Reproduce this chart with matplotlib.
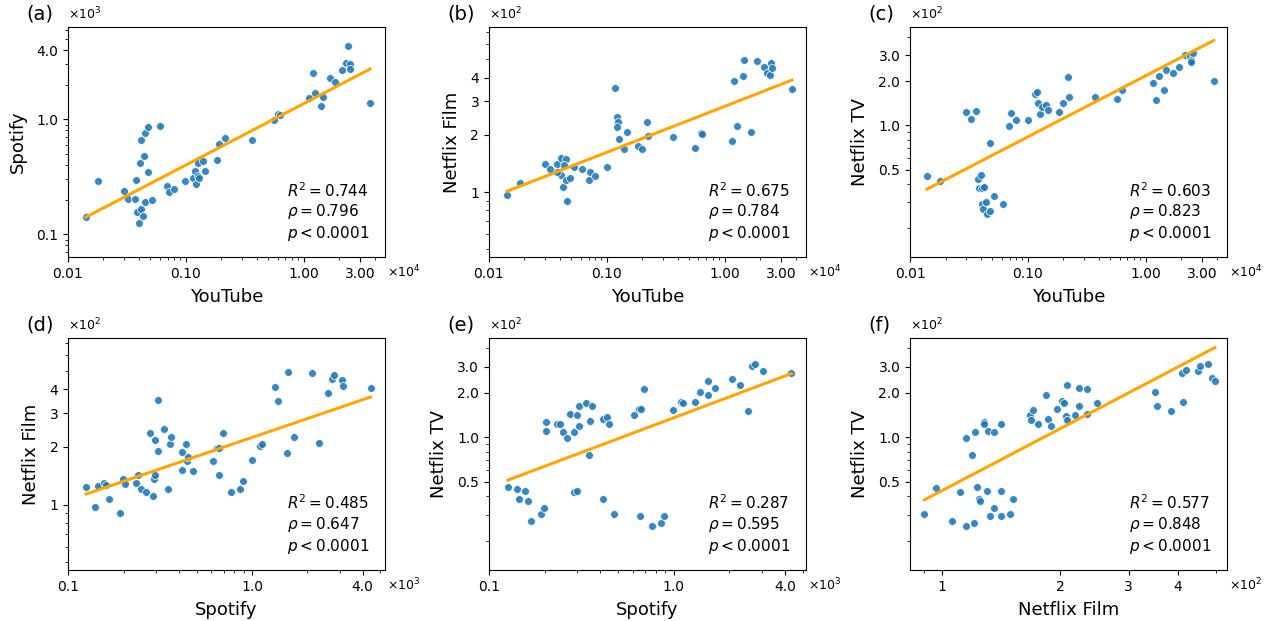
import numpy as np
import matplotlib.pyplot as plt
from matplotlib.ticker import NullFormatter

# (a) YouTube (x10^4) vs Spotify (x10^3)
a_youtube = [0.0141, 0.0180, 0.0297, 0.0326, 0.0378, 0.0373, 0.0385, 0.0419, 0.0403, 0.0431,
             0.0451, 0.0513, 0.0406, 0.0445, 0.0478, 0.0417, 0.0448, 0.0474, 0.0607, 0.0695,
             0.0714, 0.0792, 0.0987, 0.116, 0.120, 0.122, 0.126, 0.129, 0.128, 0.141,
             0.146, 0.183, 0.193, 0.215, 0.361, 0.557, 0.611, 0.627, 1.12, 1.19,
             1.26, 1.45, 1.40, 1.68, 1.86, 2.11, 2.28, 2.40, 2.46, 2.45, 3.66]
a_spotify = [0.141, 0.289, 0.238, 0.202, 0.297, 0.202, 0.157, 0.166, 0.126, 0.144,
             0.190, 0.199, 0.414, 0.477, 0.346, 0.661, 0.760, 0.851, 0.881, 0.265,
             0.233, 0.248, 0.289, 0.307, 0.358, 0.276, 0.321, 0.307, 0.414, 0.431,
             0.353, 0.443, 0.610, 0.693, 0.666, 0.987, 1.105, 1.09, 1.54, 2.55,
             1.68, 1.55, 1.31, 2.29, 2.10, 2.67, 3.11, 4.34, 3.05, 2.74, 1.38]

# (b) YouTube (x10^4) vs Netflix Film (x10^2)
b_youtube = [0.0142, 0.0183, 0.0301, 0.0332, 0.0380, 0.0411, 0.0453, 0.0406, 0.0380, 0.0422,
             0.0456, 0.0453, 0.0487, 0.0522, 0.0431, 0.0619, 0.0723, 0.0705, 0.0802, 0.1007,
             0.118, 0.121, 0.124, 0.123, 0.128, 0.140, 0.148, 0.185, 0.198, 0.218,
             0.225, 0.368, 0.565, 0.627, 0.640, 1.16, 1.21, 1.28, 1.42, 1.46,
             1.69, 1.90, 2.15, 2.29, 2.43, 2.48, 2.50, 3.73]
b_film = [0.96, 1.11, 1.41, 1.32, 1.41, 1.51, 1.49, 1.23, 1.27, 1.06,
          0.90, 1.15, 1.19, 1.35, 1.39, 1.32, 1.28, 1.15, 1.21, 1.35,
          3.53, 2.49, 2.35, 2.19, 1.90, 1.68, 2.08, 1.75, 1.68, 2.34,
          1.97, 1.96, 1.70, 2.04, 2.02, 1.85, 3.85, 2.23, 4.10, 4.96,
          2.08, 4.90, 4.54, 4.24, 4.12, 4.78, 4.52, 3.49]

# (c) YouTube (x10^4) vs Netflix TV (x10^2)
c_youtube = [0.0139, 0.0178, 0.0297, 0.0326, 0.0366, 0.0376, 0.0401, 0.0388, 0.0406, 0.0428,
             0.0412, 0.0415, 0.0443, 0.0449, 0.0475, 0.0479, 0.0514, 0.0613, 0.0694, 0.0717,
             0.0796, 0.0993, 0.116, 0.120, 0.122, 0.127, 0.131, 0.143, 0.147, 0.185,
             0.197, 0.217, 0.224, 0.369, 0.567, 0.634, 1.16, 1.22, 1.29, 1.42,
             1.49, 1.71, 1.92, 2.17, 2.38, 2.44, 2.51, 2.44, 3.78]
c_tv = [0.451, 0.421, 1.23, 1.10, 1.26, 0.430, 0.460, 0.373, 0.377, 0.379,
        0.290, 0.269, 0.299, 0.250, 0.261, 0.759, 0.330, 0.290, 0.99, 1.22,
        1.09, 1.08, 1.63, 1.70, 1.43, 1.19, 1.34, 1.38, 1.28, 1.23,
        1.42, 2.14, 1.56, 1.55, 1.52, 1.75, 1.94, 1.50, 2.16, 1.73,
        2.39, 2.27, 2.50, 3.02, 2.92, 2.79, 3.13, 2.69, 2.02]

# (d) Spotify (x10^3) vs Netflix Film (x10^2)
d_spotify = [0.125, 0.140, 0.145, 0.157, 0.160, 0.167, 0.190, 0.199, 0.204, 0.234,
             0.239, 0.250, 0.264, 0.277, 0.290, 0.291, 0.298, 0.298, 0.307, 0.308,
             0.333, 0.348, 0.356, 0.362, 0.415, 0.415, 0.435, 0.442, 0.448, 0.479,
             0.612, 0.647, 0.664, 0.664, 0.695, 0.768, 0.860, 0.889, 1.00, 1.11,
             1.13, 1.33, 1.39, 1.55, 1.57, 1.69, 2.12, 2.32, 2.58, 2.71,
             2.80, 3.08, 3.15, 4.42]
d_film = [1.24, 0.965, 1.25, 1.30, 1.26, 1.07, 0.905, 1.36, 1.28, 1.29,
          1.42, 1.21, 1.16, 2.35, 1.11, 1.36, 1.42, 2.18, 1.90, 3.52,
          2.48, 1.20, 2.08, 2.24, 1.87, 1.52, 2.07, 1.68, 1.77, 1.49,
          1.69, 1.98, 1.97, 1.42, 2.35, 1.16, 1.21, 1.32, 1.70, 2.02,
          2.06, 4.10, 3.47, 1.85, 4.92, 2.24, 4.86, 2.09, 3.83, 4.51,
          4.77, 4.49, 4.16, 4.08]

# (e) Spotify (x10^3) vs Netflix TV (x10^2)
e_spotify = [0.126, 0.141, 0.145, 0.157, 0.161, 0.169, 0.190, 0.199, 0.203, 0.204,
             0.233, 0.240, 0.250, 0.265, 0.275, 0.289, 0.288, 0.297, 0.300, 0.308,
             0.308, 0.332, 0.346, 0.353, 0.362, 0.413, 0.413, 0.435, 0.444, 0.476,
             0.608, 0.644, 0.666, 0.658, 0.691, 0.764, 0.855, 0.880, 0.99, 1.10,
             1.12, 1.31, 1.38, 1.54, 1.53, 1.67, 2.07, 2.28, 2.53, 2.65,
             2.75, 3.04, 4.33]
e_tv = [0.463, 0.451, 0.382, 0.433, 0.372, 0.273, 0.303, 0.332, 1.10, 1.26,
        1.22, 1.23, 1.09, 0.99, 1.44, 1.08, 0.424, 0.433, 1.41, 1.63,
        1.19, 1.70, 0.764, 1.28, 1.63, 1.33, 0.382, 1.38, 1.22, 0.303,
        1.41, 1.55, 1.55, 0.292, 2.13, 0.252, 0.262, 0.292, 1.52, 1.74,
        1.70, 1.72, 2.01, 2.39, 1.92, 2.15, 2.49, 2.25, 1.50, 3.01,
        3.12, 2.79, 2.71]

# (f) Netflix Film (x10^2) vs Netflix TV (x10^2)
f_film = [0.900, 0.961, 1.061, 1.111, 1.151, 1.151, 1.190, 1.202, 1.212, 1.229,
          1.243, 1.251, 1.281, 1.281, 1.301, 1.312, 1.322, 1.354, 1.354, 1.412,
          1.412, 1.412, 1.493, 1.513, 1.680, 1.687, 1.703, 1.754, 1.844, 1.862,
          1.896, 1.965, 2.019, 2.051, 2.076, 2.084, 2.084, 2.188, 2.234, 2.234,
          2.352, 2.352, 2.490, 3.50, 3.54, 3.85, 4.12, 4.11, 4.20, 4.51,
          4.55, 4.78, 4.91, 4.98]
f_tv = [0.303, 0.453, 0.273, 0.424, 0.99, 0.252, 0.764, 0.263, 1.09, 0.463,
        0.382, 0.374, 1.26, 1.22, 0.433, 1.10, 0.292, 0.332, 1.08, 0.292,
        0.433, 1.23, 0.303, 0.382, 1.42, 1.30, 1.53, 1.23, 1.93, 1.33,
        1.19, 1.55, 1.75, 1.71, 1.39, 1.30, 2.25, 1.41, 2.16, 1.63,
        2.13, 1.44, 1.70, 2.01, 1.63, 1.50, 1.72, 2.71, 2.83, 2.79,
        3.01, 3.11, 2.50, 2.40]

panel_tags = ['(a)', '(b)', '(c)', '(d)', '(e)', '(f)']
r2_values = [0.744, 0.675, 0.603, 0.485, 0.287, 0.577]
rho_values = [0.796, 0.784, 0.823, 0.647, 0.595, 0.848]
# fitted lines, log10(y) = slope * log10(x) + intercept
fit_slope = [0.534, 0.242, 0.416, 0.327, 0.468, 1.383]
fit_intercept = [0.136, 0.451, 0.338, 0.350, 0.132, -0.359]

yt_ticks, yt_labels = [0.01, 0.1, 1, 3], ['0.01', '0.10', '1.00', '3.00']
sp_ticks, sp_labels = [0.1, 1, 4], ['0.1', '1.0', '4.0']
film_ticks, film_labels = [1, 2, 3, 4], ['1', '2', '3', '4']
tv_ticks, tv_labels = [0.5, 1, 2, 3], ['0.5', '1.0', '2.0', '3.0']

panels = [
    dict(x=a_youtube, y=a_spotify, xlabel='YouTube', ylabel='Spotify',
         xt=(yt_ticks, yt_labels), yt=(sp_ticks, sp_labels),
         xlim=(0.0102, 4.9), ylim=(0.0635, 6.35), xexp=4, yexp=3),
    dict(x=b_youtube, y=b_film, xlabel='YouTube', ylabel='Netflix Film',
         xt=(yt_ticks, yt_labels), yt=(film_ticks, film_labels),
         xlim=(0.0102, 4.9), ylim=(0.455, 7.4), xexp=4, yexp=2),
    dict(x=c_youtube, y=c_tv, xlabel='YouTube', ylabel='Netflix TV',
         xt=(yt_ticks, yt_labels), yt=(tv_ticks, tv_labels),
         xlim=(0.0102, 4.9), ylim=(0.127, 4.68), xexp=4, yexp=2),
    dict(x=d_spotify, y=d_film, xlabel='Spotify', ylabel='Netflix Film',
         xt=(sp_ticks, sp_labels), yt=(film_ticks, film_labels),
         xlim=(0.0995, 5.3), ylim=(0.455, 7.4), xexp=3, yexp=2),
    dict(x=e_spotify, y=e_tv, xlabel='Spotify', ylabel='Netflix TV',
         xt=(sp_ticks, sp_labels), yt=(tv_ticks, tv_labels),
         xlim=(0.0995, 5.2), ylim=(0.127, 4.68), xexp=3, yexp=2),
    dict(x=f_film, y=f_tv, xlabel='Netflix Film', ylabel='Netflix TV',
         xt=(film_ticks, film_labels), yt=(tv_ticks, tv_labels),
         xlim=(0.827, 5.35), ylim=(0.127, 4.68), xexp=2, yexp=2),
]

fig = plt.figure(figsize=(12.71, 6.21), dpi=100)
lefts = [0.0535, 0.3847, 0.7160]
bottoms = [0.5862, 0.0821]
heights = [0.3704, 0.3736]
width = 0.2494

for i, p in enumerate(panels):
    row, col = divmod(i, 3)
    ax = fig.add_axes([lefts[col], bottoms[row], width, heights[row]])
    x = np.array(p['x'])
    y = np.array(p['y'])

    ax.scatter(x, y, s=32, color='#1f77b4', edgecolor='white', linewidth=0.6,
               alpha=0.88, zorder=2)

    # regression line over the data range
    xs = np.array([x.min(), x.max()])
    ax.plot(xs, 10 ** (fit_intercept[i] + fit_slope[i] * np.log10(xs)),
            color='orange', lw=2.2, zorder=3)

    ax.set_xscale('log')
    ax.set_yscale('log')
    ax.set_xlim(*p['xlim'])
    ax.set_ylim(*p['ylim'])
    ax.set_xticks(p['xt'][0], p['xt'][1])
    ax.set_yticks(p['yt'][0], p['yt'][1])
    ax.xaxis.set_minor_formatter(NullFormatter())
    ax.yaxis.set_minor_formatter(NullFormatter())
    ax.tick_params(labelsize=10)

    ax.set_xlabel(p['xlabel'], fontsize=13, labelpad=5)
    ax.set_ylabel(p['ylabel'], fontsize=13, labelpad=7)

    ax.text(1.006, -0.066, r'$\times10^{%d}$' % p['xexp'], transform=ax.transAxes,
            ha='left', va='center', fontsize=9)
    ax.text(0.0, 1.02, r'$\times10^{%d}$' % p['yexp'], transform=ax.transAxes,
            ha='left', va='bottom', fontsize=9)
    ax.text(-0.13, 1.055, panel_tags[i], transform=ax.transAxes,
            ha='left', va='center', fontsize=14)

    stats = '$R^2 = %.3f$\n$\\rho = %.3f$\n$p < 0.0001$' % (r2_values[i], rho_values[i])
    ax.text(0.69, 0.06, stats, transform=ax.transAxes, ha='left', va='bottom', fontsize=11)

fig.savefig('out.png', dpi=100)
